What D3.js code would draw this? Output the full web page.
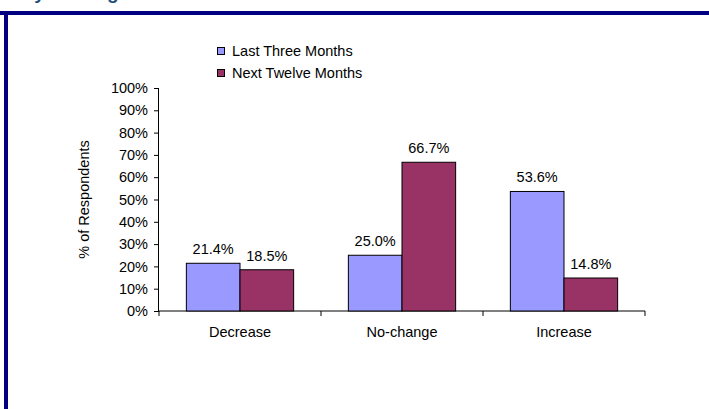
<!DOCTYPE html>
<html>
<head>
<meta charset="utf-8">
<script src="https://cdn.jsdelivr.net/npm/d3@7"></script>
<style>
body{margin:0;background:#fff;}
svg text{font-family:Arial,"Liberation Sans",sans-serif;fill:#000;}
</style>
</head>
<body>
<div id="chart"></div>
<script>
const categories = ["Decrease", "No-change", "Increase"];
const seriesNames = ["Last Three Months", "Next Twelve Months"];
const lastThree = [21.4, 25.0, 53.6];
const nextTwelve = [18.5, 66.7, 14.8];
const yTicks = [0, 10, 20, 30, 40, 50, 60, 70, 80, 90, 100];
const colors = ["#9999FF", "#993366"];

const width = 709, height = 409;
const margin = {top: 88, right: 64, bottom: 98, left: 159};
const fs = "14.5px";

const svg = d3.select("#chart")
    .append("svg")
    .attr("width", width)
    .attr("height", height);

// slide frame
svg.append("text")
    .attr("x", 10)
    .attr("y", -1)
    .style("font-size", "19px")
    .style("font-weight", "bold")
    .style("fill", "#1F4E79")
    .text("Key Findings");
svg.append("rect").attr("x", 0).attr("y", 11).attr("width", width).attr("height", 4).attr("fill", "#000080");
svg.append("rect").attr("x", 4).attr("y", 11).attr("width", 4).attr("height", height - 11).attr("fill", "#000080");

const x0 = d3.scaleBand()
    .domain(categories)
    .range([margin.left, width - margin.right])
    .paddingInner(0)
    .paddingOuter(0);

const x1 = d3.scaleBand()
    .domain(seriesNames)
    .range([0, x0.bandwidth()])
    .paddingInner(0)
    .paddingOuter(0.51);

const y = d3.scaleLinear()
    .domain([0, 100])
    .range([height - margin.bottom, margin.top]);

// y axis
const yAxis = svg.append("g")
    .attr("transform", `translate(${margin.left},0)`)
    .call(d3.axisLeft(y).tickValues(yTicks).tickSize(5).tickPadding(6).tickFormat(d => d + "%"));
yAxis.selectAll("text").style("font-size", fs);
yAxis.select(".domain").attr("d", `M-0.5,${y(100)}V${y(0)}`);

// x axis
const xAxis = svg.append("g")
    .attr("transform", `translate(0,${y(0)})`);
xAxis.append("line")
    .attr("x1", x0.range()[0]).attr("x2", x0.range()[1])
    .attr("stroke", "#000");
const bounds = categories.map(c => x0(c)).concat([x0.range()[1]]);
xAxis.selectAll(".tk")
    .data(bounds)
    .join("line")
    .attr("x1", d => d).attr("x2", d => d)
    .attr("y1", 0).attr("y2", 5)
    .attr("stroke", "#000");
xAxis.selectAll(".cat")
    .data(categories)
    .join("text")
    .attr("x", d => x0(d) + x0.bandwidth() / 2)
    .attr("y", 26)
    .attr("text-anchor", "middle")
    .style("font-size", fs)
    .text(d => d);

// bars
const rows = categories.map((c, i) => ({cat: c, vals: [lastThree[i], nextTwelve[i]]}));
const groups = svg.selectAll(".grp")
    .data(rows)
    .join("g")
    .attr("transform", d => `translate(${x0(d.cat)},0)`);

groups.selectAll("rect")
    .data(d => d.vals.map((v, j) => ({name: seriesNames[j], v, j})))
    .join("rect")
    .attr("x", d => x1(d.name))
    .attr("y", d => y(d.v))
    .attr("width", x1.bandwidth())
    .attr("height", d => y(0) - y(d.v))
    .attr("fill", d => colors[d.j])
    .attr("stroke", "#000")
    .attr("stroke-width", 1);

groups.selectAll(".lbl")
    .data(d => d.vals.map((v, j) => ({name: seriesNames[j], v})))
    .join("text")
    .attr("x", d => x1(d.name) + x1.bandwidth() / 2)
    .attr("y", d => y(d.v) - 9)
    .attr("text-anchor", "middle")
    .style("font-size", fs)
    .text(d => d.v.toFixed(1) + "%");

// y title
svg.append("text")
    .attr("transform", `translate(89,${(y(0) + y(100)) / 2}) rotate(-90)`)
    .attr("text-anchor", "middle")
    .style("font-size", fs)
    .text("% of Respondents");

// legend
const legend = svg.append("g");
seriesNames.forEach((s, i) => {
    legend.append("rect")
        .attr("x", 217.5).attr("y", 47.5 + i * 22)
        .attr("width", 7).attr("height", 7)
        .attr("fill", colors[i]).attr("stroke", "#000");
    legend.append("text")
        .attr("x", 232).attr("y", 56 + i * 22)
        .style("font-size", fs)
        .text(s);
});
</script>
</body>
</html>
